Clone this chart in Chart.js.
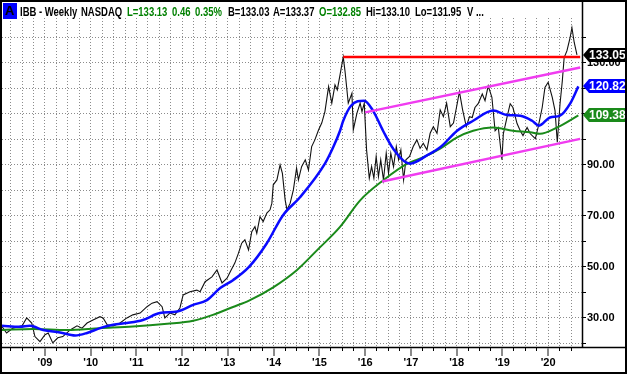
<!DOCTYPE html>
<html>
<head>
<meta charset="utf-8">
<title>IBB Weekly</title>
<script src="https://cdn.jsdelivr.net/npm/chart.js@4.4.1/dist/chart.umd.min.js"></script>
<style>
  html, body { margin: 0; padding: 0; background: #fff; }
  #wrap { position: relative; width: 627px; height: 374px; overflow: hidden; }
  #c { position: absolute; left: 0; top: 0; }
  #head span { position: absolute; top: 4px; white-space: pre; line-height: 15px;
    transform: scaleX(0.73); transform-origin: 0 0;
    font: bold 13px "Liberation Sans", Arial, sans-serif; }
  #badge { position: absolute; left: 3px; top: 3px; width: 14px; height: 16px; background: #0000ff;
    color: #000; text-align: center; line-height: 18px; font: bold 13px "Liberation Sans", Arial, sans-serif; }
</style>
</head>
<body>
<div id="wrap">
  <canvas id="c" width="627" height="374"></canvas>
  <div id="head"><div id="badge">A</div></div>
</div>
<script>
// weekly closes (decimal years)
var priceDates = [2008.06, 2008.16, 2008.30, 2008.50, 2008.60, 2008.71, 2008.78, 2008.89, 2009.00, 2009.07,
    2009.17, 2009.28, 2009.39, 2009.55, 2009.70, 2009.81, 2009.92, 2010.05, 2010.20, 2010.27,
    2010.36, 2010.49, 2010.64, 2010.79, 2010.92, 2011.08, 2011.23, 2011.34, 2011.45, 2011.56,
    2011.62, 2011.73, 2011.84, 2011.95, 2012.02, 2012.17, 2012.32, 2012.39, 2012.50, 2012.65,
    2012.76, 2012.87, 2012.98, 2013.05, 2013.15, 2013.23, 2013.30, 2013.37, 2013.45, 2013.52,
    2013.59, 2013.63, 2013.70, 2013.77, 2013.85, 2013.92, 2013.96, 2013.99, 2014.07, 2014.14,
    2014.19, 2014.25, 2014.29, 2014.36, 2014.43, 2014.50, 2014.54, 2014.61, 2014.69, 2014.76,
    2014.83, 2014.90, 2014.98, 2015.05, 2015.12, 2015.20, 2015.27, 2015.34, 2015.39, 2015.45,
    2015.52, 2015.56, 2015.63, 2015.71, 2015.74, 2015.82, 2015.89, 2015.93, 2015.98, 2016.03,
    2016.09, 2016.14, 2016.19, 2016.24, 2016.29, 2016.34, 2016.40, 2016.46, 2016.51, 2016.56,
    2016.62, 2016.68, 2016.73, 2016.78, 2016.84, 2016.89, 2016.97, 2017.05, 2017.13, 2017.20,
    2017.27, 2017.35, 2017.42, 2017.49, 2017.57, 2017.64, 2017.71, 2017.78, 2017.86, 2017.93,
    2018.00, 2018.06, 2018.13, 2018.21, 2018.28, 2018.34, 2018.40, 2018.47, 2018.56, 2018.62,
    2018.69, 2018.77, 2018.84, 2018.91, 2018.95, 2018.99, 2019.02, 2019.10, 2019.17, 2019.23,
    2019.32, 2019.39, 2019.45, 2019.54, 2019.61, 2019.72, 2019.78, 2019.87, 2019.93, 2020.00,
    2020.09, 2020.15, 2020.20, 2020.26, 2020.31, 2020.35, 2020.41, 2020.48, 2020.52, 2020.57,
    2020.63];
var priceValues = [26.6, 24.1, 26.0, 26.9, 30.0, 28.0, 22.7, 20.7, 23.4, 24.1,
    20.2, 22.2, 22.7, 25.3, 26.9, 26.0, 28.0, 29.2, 30.5, 30.0,
    27.3, 26.9, 28.0, 30.0, 31.2, 31.9, 34.4, 35.8, 36.4, 34.4,
    30.0, 31.9, 31.2, 33.9, 39.0, 40.3, 40.9, 40.3, 44.2, 46.1,
    48.8, 43.7, 45.6, 48.1, 51.5, 55.4, 59.3, 60.6, 56.7, 63.8,
    65.8, 63.2, 69.7, 67.8, 71.1, 72.4, 75.0, 82.2, 84.1, 90.0,
    86.7, 76.3, 72.4, 75.0, 80.2, 88.7, 84.1, 89.3, 92.0, 88.0,
    97.2, 99.8, 103.7, 106.4, 110.9, 120.7, 114.2, 121.4, 119.4, 125.3,
    132.3, 126.6, 114.2, 118.1, 103.7, 110.3, 114.2, 110.9, 114.2, 95.9,
    84.8, 89.3, 84.8, 93.3, 85.4, 92.0, 84.1, 94.6, 86.7, 94.6,
    89.3, 97.2, 92.0, 95.9, 84.1, 92.0, 93.3, 97.2, 99.8, 96.5,
    98.5, 95.9, 102.4, 105.0, 102.4, 111.6, 108.9, 114.2, 105.0, 106.4,
    112.9, 118.7, 111.6, 105.0, 108.9, 108.6, 112.5, 114.0, 117.8, 115.2,
    121.0, 116.5, 103.4, 104.7, 98.4, 92.0, 102.2, 108.6, 114.0, 112.5,
    106.2, 103.4, 101.5, 104.7, 102.2, 100.3, 104.7, 112.5, 120.4, 122.4,
    116.5, 111.3, 98.9, 114.0, 123.0, 132.1, 134.7, 139.9, 143.8, 138.0,
    133.1];

// 50-week moving average (blue)
var ma50Dates = [2008.06, 2008.45, 2008.67, 2008.96, 2009.33, 2009.66, 2009.92, 2010.20, 2010.49, 2010.79,
    2011.14, 2011.51, 2011.89, 2012.24, 2012.54, 2012.83, 2013.11, 2013.46, 2013.85, 2014.20,
    2014.58, 2015.12, 2015.30, 2015.45, 2015.52, 2015.69, 2015.98, 2016.17, 2016.39, 2016.61,
    2016.98, 2017.35, 2017.64, 2018.01, 2018.36, 2018.80, 2019.10, 2019.39, 2019.65, 2019.80,
    2020.04, 2020.26, 2020.48, 2020.66];
var ma50Values = [26.9, 26.5, 26.9, 25.3, 24.3, 23.1, 24.1, 26.0, 27.3, 28.0,
    29.2, 31.9, 32.5, 35.1, 37.0, 41.7, 44.8, 50.0, 59.3, 70.2,
    77.4, 90.5, 96.9, 103.4, 107.3, 113.2, 115.2, 111.3, 103.4, 96.4,
    90.5, 93.7, 96.9, 103.4, 107.3, 111.3, 109.6, 109.3, 107.3, 105.4,
    108.6, 109.3, 114.0, 120.8];

// 200-week moving average (green)
var ma200Dates = [2008.06, 2008.74, 2009.48, 2010.20, 2010.92, 2011.67, 2012.24, 2012.67, 2013.11, 2013.46,
    2013.99, 2014.51, 2014.95, 2015.45, 2015.89, 2016.39, 2016.92, 2017.27, 2017.64, 2018.01,
    2018.36, 2018.80, 2019.23, 2019.61, 2019.82, 2020.20, 2020.66];
var ma200Values = [25.3, 25.7, 25.3, 26.0, 26.6, 27.7, 28.9, 31.2, 34.3, 36.8,
    42.0, 48.8, 56.6, 65.7, 76.1, 83.9, 90.5, 93.0, 96.4, 100.8,
    103.4, 104.7, 103.4, 102.8, 102.2, 104.7, 109.4];

// drawn trend lines
var resistDates = [2015.52, 2020.70];
var resistValues = [132.3, 132.3];
var upperDates = [2016.00, 2020.70];
var upperValues = [110.6, 128.2];
var lowerDates = [2016.37, 2020.70];
var lowerValues = [83.5, 100.2];

// right-edge value tags
var tagValues = [133.05, 120.82, 109.38];
var tagColors = ['#000000', '#0000ff', '#1a8a1a'];

var xMin = 2008.06, xMax = 2020.74;
var yMin = 18.6, yMax = 147.6;

var header = [
    ['IBB - Weekly', '#000', 20],
    ['NASDAQ', '#000', 81],
    ['L=133.13', '#008000', 127],
    ['0.46', '#008000', 172],
    ['0.35%', '#008000', 195],
    ['B=133.03', '#000', 228],
    ['A=133.37', '#000', 273],
    ['O=132.85', '#008000', 319],
    ['Hi=133.10', '#000', 366],
    ['Lo=131.95', '#000', 415],
    ['V ...', '#000', 467]
];
var head = document.getElementById('head');
header.forEach(function (h) {
    var s = document.createElement('span');
    s.textContent = h[0];
    s.style.color = h[1];
    s.style.left = h[2] + 'px';
    head.appendChild(s);
});

function pts(dates, values) {
    var out = [];
    for (var i = 0; i < dates.length; i++) {
        out.push({x: dates[i], y: values[i]});
    }
    return out;
}

function isYear(v) {
    return Math.abs(v - Math.round(v)) < 1e-6;
}

var decor = {
    id: 'decor',
    afterDraw: function (chart) {
        var ctx = chart.ctx;
        var area = chart.chartArea;
        var xs = chart.scales.x, ys = chart.scales.y;
        ctx.save();
        // axis lines
        ctx.strokeStyle = '#000';
        ctx.lineWidth = 1.5;
        ctx.beginPath();
        ctx.moveTo(0, area.bottom + 0.5);
        ctx.lineTo(chart.width, area.bottom + 0.5);
        ctx.moveTo(area.right + 0.5, 0);
        ctx.lineTo(area.right + 0.5, area.bottom);
        ctx.stroke();
        // longer grey year ticks
        ctx.strokeStyle = '#8a8a8a';
        ctx.lineWidth = 2;
        xs.ticks.forEach(function (t) {
            if (isYear(t.value)) {
                var px = Math.round(xs.getPixelForValue(t.value));
                ctx.beginPath();
                ctx.moveTo(px, area.bottom + 1);
                ctx.lineTo(px, area.bottom + 9);
                ctx.stroke();
            }
        });
        // value tags
        ctx.font = 'bold 12px "Liberation Sans", Arial, sans-serif';
        ctx.textBaseline = 'middle';
        ctx.textAlign = 'left';
        for (var i = 0; i < tagValues.length; i++) {
            var y = Math.round(ys.getPixelForValue(tagValues[i]));
            var x0 = area.right + 1;
            ctx.fillStyle = tagColors[i];
            ctx.beginPath();
            ctx.moveTo(x0, y);
            ctx.lineTo(x0 + 6, y - 7);
            ctx.lineTo(chart.width, y - 7);
            ctx.lineTo(chart.width, y + 7);
            ctx.lineTo(x0 + 6, y + 7);
            ctx.closePath();
            ctx.fill();
            ctx.fillStyle = '#fff';
            ctx.fillText(tagValues[i].toFixed(2), x0 + 6, y + 1);
        }
        // outer frame
        ctx.strokeStyle = '#000';
        ctx.lineWidth = 2;
        ctx.strokeRect(1, 1, chart.width - 2, chart.height - 2);
        ctx.restore();
    }
};

var lineDefaults = {pointRadius: 0, fill: false, tension: 0};

new Chart(document.getElementById('c'), {
    type: 'line',
    data: {
        datasets: [
            Object.assign({label: 'Upper channel', data: pts(upperDates, upperValues), borderColor: '#f03cf0', borderWidth: 2.5}, lineDefaults),
            Object.assign({label: 'Lower channel', data: pts(lowerDates, lowerValues), borderColor: '#f03cf0', borderWidth: 2.5}, lineDefaults),
            Object.assign({label: 'Resistance', data: pts(resistDates, resistValues), borderColor: '#ff0000', borderWidth: 2.5}, lineDefaults),
            Object.assign({label: 'MA(50)', data: pts(ma50Dates, ma50Values), borderColor: '#0a0aff', borderWidth: 2.5, cubicInterpolationMode: 'monotone'}, lineDefaults),
            Object.assign({label: 'MA(200)', data: pts(ma200Dates, ma200Values), borderColor: '#1a8a1a', borderWidth: 2, cubicInterpolationMode: 'monotone'}, lineDefaults),
            Object.assign({label: 'IBB', data: pts(priceDates, priceValues), borderColor: '#111', borderWidth: 1.1}, lineDefaults)
        ]
    },
    options: {
        responsive: false,
        animation: false,
        layout: {padding: {top: 18, left: 2, right: 0, bottom: 0}},
        plugins: {legend: {display: false}, tooltip: {enabled: false}},
        scales: {
            x: {
                type: 'linear',
                min: xMin,
                max: xMax,
                afterBuildTicks: function (scale) {
                    var t = [];
                    for (var q = Math.ceil(xMin * 4); q <= Math.floor(xMax * 4); q++) {
                        t.push({value: q / 4});
                    }
                    scale.ticks = t;
                },
                afterFit: function (scale) { scale.height = 27; },
                grid: {color: '#8c8c8c', lineWidth: 1, tickLength: 4, tickColor: '#000'},
                border: {display: false, dash: [1, 2]},
                ticks: {
                    autoSkip: false,
                    maxRotation: 0,
                    padding: 5,
                    color: '#000',
                    font: {family: '"Liberation Sans", Arial, sans-serif', size: 11, weight: 'bold'},
                    callback: function (v) {
                        return isYear(v) ? "'" + String(Math.round(v)).slice(2) : '';
                    }
                }
            },
            y: {
                type: 'linear',
                position: 'right',
                min: yMin,
                max: yMax,
                afterBuildTicks: function (scale) {
                    var t = [];
                    for (var v = 20; v <= 140; v += 10) t.push({value: v});
                    scale.ticks = t;
                },
                afterFit: function (scale) { scale.width = 45; },
                grid: {color: '#8c8c8c', lineWidth: 1, tickLength: 4, tickColor: '#000'},
                border: {display: false, dash: [1, 2]},
                ticks: {
                    padding: 1,
                    color: '#000',
                    font: {family: '"Liberation Sans", Arial, sans-serif', size: 11, weight: 'bold'},
                    callback: function (v) {
                        return (v % 20 === 10) ? v.toFixed(2) : '';
                    }
                }
            }
        }
    },
    plugins: [decor]
});
</script>
</body>
</html>
